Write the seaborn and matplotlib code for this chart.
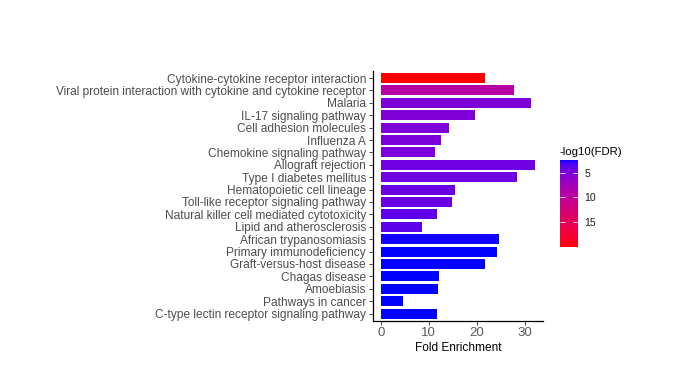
import numpy as np
import pandas as pd
import matplotlib
matplotlib.use("Agg")
import matplotlib.pyplot as plt
import seaborn as sns
from matplotlib.colors import ListedColormap, Normalize
from matplotlib.cm import ScalarMappable

terms = [
    "Cytokine-cytokine receptor interaction",
    "Viral protein interaction with cytokine and cytokine receptor",
    "Malaria",
    "IL-17 signaling pathway",
    "Cell adhesion molecules",
    "Influenza A",
    "Chemokine signaling pathway",
    "Allograft rejection",
    "Type I diabetes mellitus",
    "Hematopoietic cell lineage",
    "Toll-like receptor signaling pathway",
    "Natural killer cell mediated cytotoxicity",
    "Lipid and atherosclerosis",
    "African trypanosomiasis",
    "Primary immunodeficiency",
    "Graft-versus-host disease",
    "Chagas disease",
    "Amoebiasis",
    "Pathways in cancer",
    "C-type lectin receptor signaling pathway",
]
fold_enrichment = [21.8, 27.7, 31.2, 19.6, 14.3, 12.5, 11.2, 32.1, 28.3, 15.4,
                   14.8, 11.7, 8.6, 24.7, 24.1, 21.8, 12.1, 12.0, 4.6, 11.7]
neg_log10_fdr = [20.1, 9.2, 5.3, 5.2, 5.1, 5.0, 5.0, 4.6, 4.5, 4.4,
                 4.4, 3.9, 3.8, 2.5, 2.45, 2.45, 2.4, 2.4, 2.4, 2.4]
colorbar_ticks = [5, 10, 15]
x_ticks = [0, 10, 20, 30]

# ---- Lab interpolation between blue (low) and red (high), like ggplot ----
def srgb_to_lab(rgb):
    rgb = np.asarray(rgb, float)
    lin = np.where(rgb <= 0.04045, rgb / 12.92, ((rgb + 0.055) / 1.055) ** 2.4)
    M = np.array([[0.4124564, 0.3575761, 0.1804375],
                  [0.2126729, 0.7151522, 0.0721750],
                  [0.0193339, 0.1191920, 0.9503041]])
    xyz = M @ lin
    white = np.array([0.95047, 1.0, 1.08883])
    t = xyz / white
    f = np.where(t > (6 / 29) ** 3, np.cbrt(t), t / (3 * (6 / 29) ** 2) + 4 / 29)
    return np.array([116 * f[1] - 16, 500 * (f[0] - f[1]), 200 * (f[1] - f[2])])

def lab_to_srgb(lab):
    L, a, b = lab
    fy = (L + 16) / 116
    fx = fy + a / 500
    fz = fy - b / 200
    f = np.array([fx, fy, fz])
    t = np.where(f > 6 / 29, f ** 3, 3 * (6 / 29) ** 2 * (f - 4 / 29))
    white = np.array([0.95047, 1.0, 1.08883])
    xyz = t * white
    Minv = np.array([[3.2404542, -1.5371385, -0.4985314],
                     [-0.9692660, 1.8760108, 0.0415560],
                     [0.0556434, -0.2040259, 1.0572252]])
    lin = Minv @ xyz
    lin = np.clip(lin, 0, 1)
    rgb = np.where(lin <= 0.0031308, 12.92 * lin, 1.055 * lin ** (1 / 2.4) - 0.055)
    return np.clip(rgb, 0, 1)

lab_blue = srgb_to_lab([0, 0, 1])
lab_red = srgb_to_lab([1, 0, 0])
cols = [lab_to_srgb(lab_blue + (lab_red - lab_blue) * s) for s in np.linspace(0, 1, 256)]
cmap = ListedColormap(cols)
vmin, vmax = min(neg_log10_fdr), max(neg_log10_fdr)
norm = Normalize(vmin=vmin, vmax=vmax)

df = pd.DataFrame({"term": terms, "fold": fold_enrichment, "fdr": neg_log10_fdr})
palette = {t: cmap(norm(v)) for t, v in zip(terms, neg_log10_fdr)}

plt.rcParams["font.family"] = ["Liberation Sans", "DejaVu Sans"]
fig = plt.figure(figsize=(6.8, 3.83), dpi=100)
ax = fig.add_axes([373 / 680, 1 - 321 / 383, (542.7 - 373) / 680, (321 - 70.6) / 383])

sns.barplot(data=df, y="term", x="fold", hue="term", palette=palette,
            dodge=False, legend=False, width=0.8, saturation=1, ax=ax,
            order=terms, hue_order=terms, errorbar=None)

ax.set_xlim(-1.6, 33.7)
ax.set_ylim(len(terms) - 0.4, -0.6)
ax.set_xticks(x_ticks)
ax.set_xticklabels([str(t) for t in x_ticks])
ax.set_xlabel("Fold Enrichment", fontsize=8.6, color="black", labelpad=2)
ax.set_ylabel("")
for s in ["top", "right"]:
    ax.spines[s].set_visible(False)
for s in ["left", "bottom"]:
    ax.spines[s].set_color("black")
    ax.spines[s].set_linewidth(0.9)
ax.tick_params(axis="both", length=3, width=0.6, color="#333333",
               labelcolor="#4D4D4D", pad=2)
ax.tick_params(axis="y", labelsize=8.6)
ax.tick_params(axis="x", labelsize=9.5, labelcolor="#5A5A5A", pad=1.5)
ax.set_facecolor("white")

# colorbar
cax = fig.add_axes([560 / 680, 1 - 247 / 383, 17.7 / 680, 87 / 383])
sm = ScalarMappable(norm=norm, cmap=cmap)
cb = fig.colorbar(sm, cax=cax)
cb.outline.set_visible(False)
cax.set_ylim(vmax, vmin)
cb.set_ticks(colorbar_ticks)
cax.tick_params(axis="y", direction="in", length=3.5, width=0.6, color="white",
                left=True, right=True, labelright=True, labelleft=False,
                labelsize=7.5, labelcolor="#1A1A1A", pad=5)
fig.text(560 / 680, 1 - 152 / 383, "-log10(FDR)", fontsize=8.2, color="black",
         ha="left", va="center")

fig.savefig("out.png", dpi=100, facecolor="white")
